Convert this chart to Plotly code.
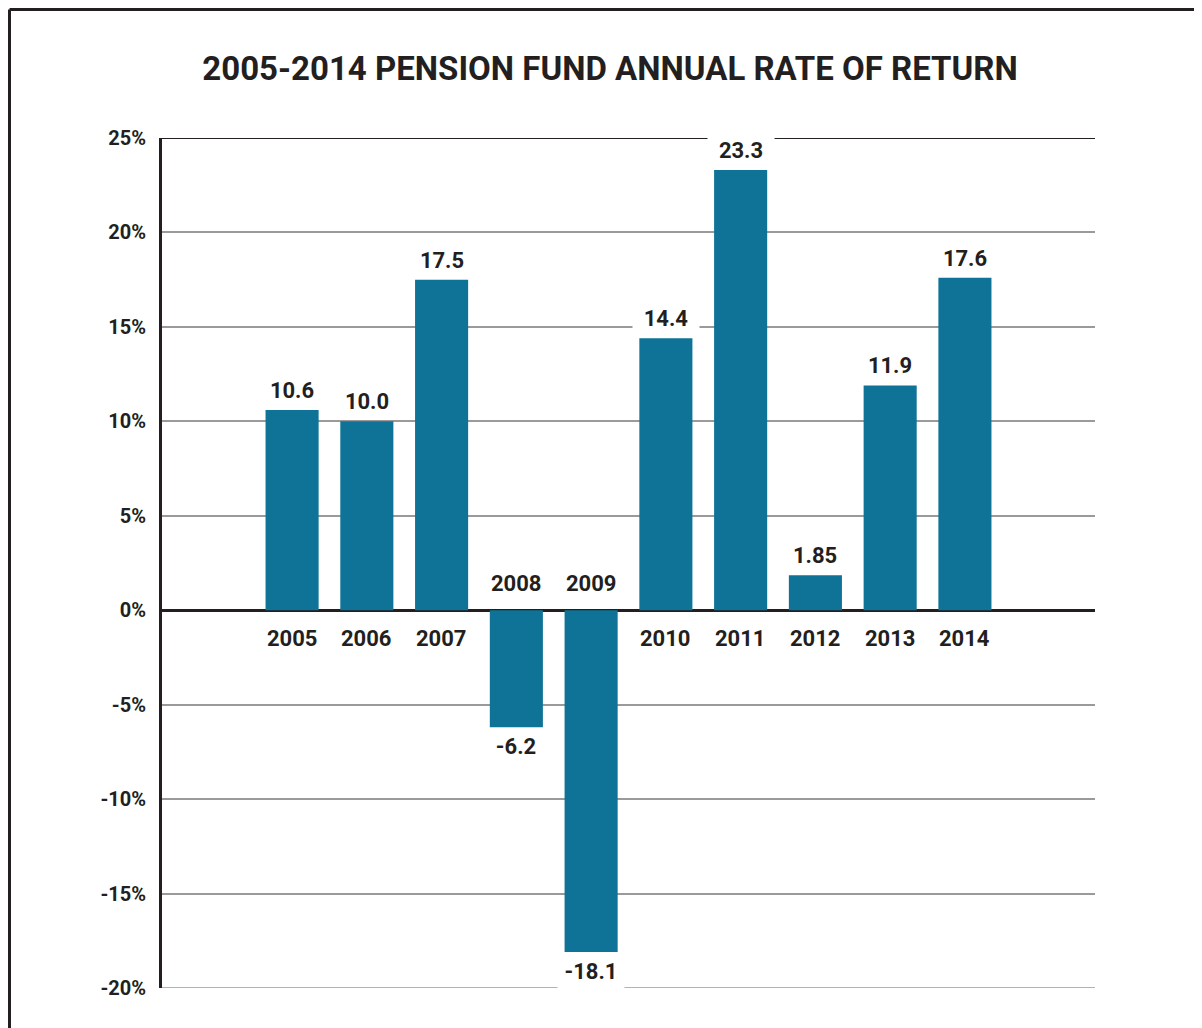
import plotly.graph_objects as go

years = ["2005", "2006", "2007", "2008", "2009", "2010", "2011", "2012", "2013", "2014"]
returns = [10.6, 10.0, 17.5, -6.2, -18.1, 14.4, 23.3, 1.85, 11.9, 17.6]
value_labels = ["10.6", "10.0", "17.5", "-6.2", "-18.1", "14.4", "23.3", "1.85", "11.9", "17.6"]
tick_vals = [-20, -15, -10, -5, 0, 5, 10, 15, 20, 25]
tick_text = ["-20%", "-15%", "-10%", "-5%", "0%", "5%", "10%", "15%", "20%", "25%"]
title_text = "2005-2014 PENSION FUND ANNUAL RATE OF RETURN"

FONT = "Roboto, Liberation Sans, Arial, sans-serif"
INK = "#231f20"
BAR = "#0e7396"
GRID = "#9a9a9a"

W, H = 1194, 1020
ML, MT = 154, 130
PLOT_W, PLOT_H = 933, 850

fig = go.Figure(go.Bar(
    x=list(range(len(years))), y=returns, marker=dict(color=BAR, line=dict(width=0)),
    hoverinfo="skip",
))

annotations = []
for i, (yr, v, lab) in enumerate(zip(years, returns, value_labels)):
    if v >= 0:
        annotations.append(dict(x=i, y=v, xref="x", yref="y", text="<b>%s</b>" % lab,
                                showarrow=False, yanchor="bottom", yshift=6, height=32,
                                width=66, valign="bottom", bgcolor="white", borderpad=0,
                                font=dict(family=FONT, size=22, color=INK)))
        annotations.append(dict(x=i, y=0, xref="x", yref="y", text="<b>%s</b>" % yr,
                                showarrow=False, yanchor="middle", yshift=-28,
                                font=dict(family=FONT, size=22, color=INK)))
    else:
        annotations.append(dict(x=i, y=v, xref="x", yref="y", text="<b>%s</b>" % lab,
                                showarrow=False, yanchor="top", yshift=-6, height=36,
                                width=66, valign="top", bgcolor="white", borderpad=0,
                                font=dict(family=FONT, size=22, color=INK)))
        annotations.append(dict(x=i, y=0, xref="x", yref="y", text="<b>%s</b>" % yr,
                                showarrow=False, yanchor="middle", yshift=27,
                                font=dict(family=FONT, size=22, color=INK)))

frame_x = (1.5 - ML) / PLOT_W
frame_y = 1 + (MT - 1.5) / PLOT_H
shapes = [
    # top 25% line in black
    dict(type="line", xref="paper", yref="y", x0=0, x1=1, y0=tick_vals[-1], y1=tick_vals[-1],
         line=dict(color=INK, width=2), layer="below"),
    # bottom -20% grid line
    dict(type="line", xref="paper", yref="y", x0=0, x1=1, y0=tick_vals[0], y1=tick_vals[0],
         line=dict(color=GRID, width=1.5), layer="below"),
    # outer frame (left and top edges)
    dict(type="line", xref="paper", yref="paper", x0=frame_x, x1=frame_x,
         y0=-0.06, y1=frame_y, line=dict(color=INK, width=3), layer="above"),
    dict(type="line", xref="paper", yref="paper", x0=frame_x, x1=1.12,
         y0=frame_y, y1=frame_y, line=dict(color=INK, width=3), layer="above"),
]

fig.update_layout(
    width=W, height=H,
    margin=dict(l=ML, r=W - ML - PLOT_W, t=MT, b=H - MT - PLOT_H),
    paper_bgcolor="white", plot_bgcolor="white",
    bargap=0.29,
    showlegend=False,
    title=dict(text="<b>%s</b>" % title_text, x=602 / W, xanchor="center",
               y=1 - 60 / H, yanchor="middle", yref="container",
               font=dict(family=FONT, size=33, color=INK)),
    xaxis=dict(range=[-1.74, 10.74], showticklabels=False,
               showgrid=False, zeroline=False, showline=False, ticks=""),
    yaxis=dict(range=[-20, 25], tickvals=tick_vals,
               ticktext=["<b>%s</b>" % t for t in tick_text],
               showgrid=True, gridcolor=GRID, gridwidth=1.5,
               zeroline=True, zerolinecolor=INK, zerolinewidth=2.5,
               showline=True, linecolor=INK, linewidth=3, ticks="",
               ticklabelstandoff=9,
               tickfont=dict(family=FONT, size=20, color=INK)),
    annotations=annotations,
    shapes=shapes,
)

fig.write_html("out.html")
